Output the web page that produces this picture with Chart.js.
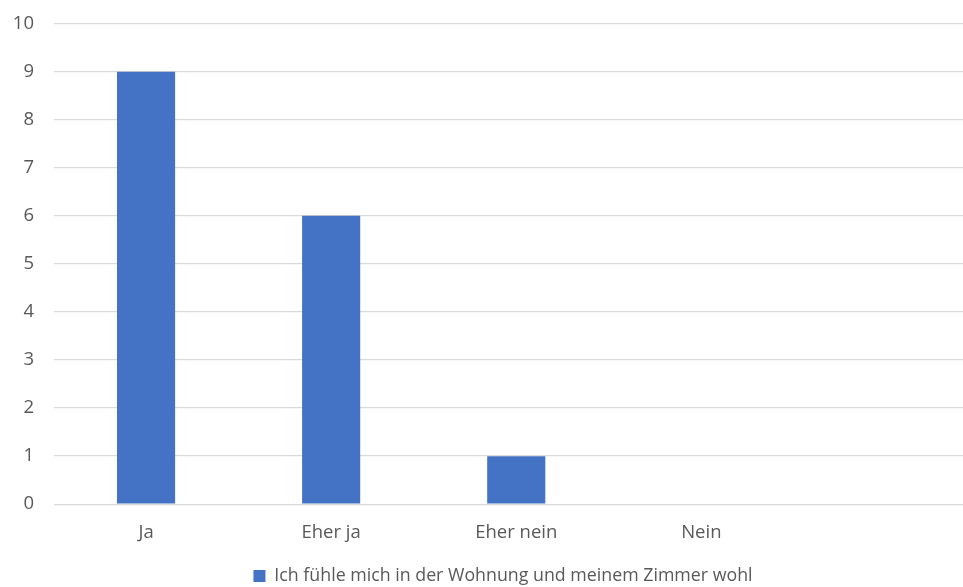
<!DOCTYPE html>
<html>
<head>
<meta charset="utf-8">
<script src="https://cdn.jsdelivr.net/npm/chart.js@4.4.1/dist/chart.umd.min.js"></script>
<style>
  html, body { margin: 0; padding: 0; background: #fff; overflow: hidden; }
  #wrap { width: 963px; height: 587px; overflow: hidden; position: relative; }
  #chart { position: absolute; left: 0; top: -7px; }
</style>
</head>
<body>
<div id="wrap"><canvas id="chart" width="979" height="594"></canvas></div>
<script>
const categories = ['Ja', 'Eher ja', 'Eher nein', 'Nein', ''];
const values = [9, 6, 1, 0, null];
const seriesLabel = 'Ich fühle mich in der Wohnung und meinem Zimmer wohl';

const textColor = '#595959';
const fontFamily = "'Open Sans', 'Liberation Sans', sans-serif";
const fontSize = 18.5;

// nudge the legend so it sits where the original put it
const moveLegend = {
  id: 'moveLegend',
  afterLayout(chart) {
    const lg = chart.legend;
    lg.left += 13.5; lg.right += 13.5;
    lg.top += 8; lg.bottom += 8;
  }
};

new Chart(document.getElementById('chart'), {
  type: 'bar',
  data: {
    labels: categories,
    datasets: [{
      label: seriesLabel,
      data: values,
      backgroundColor: '#4472C4',
      borderWidth: 0,
      categoryPercentage: 1,
      barPercentage: 0.314
    }]
  },
  options: {
    responsive: false,
    animation: false,
    layout: { padding: 0 },
    plugins: {
      legend: {
        position: 'bottom',
        labels: {
          color: textColor,
          font: { family: fontFamily, size: 17.8 },
          boxWidth: 12,
          boxHeight: 12,
          padding: 3
        }
      },
      tooltip: { enabled: false }
    },
    scales: {
      x: {
        grid: { display: false },
        border: { display: false },
        ticks: { color: textColor, font: { family: fontFamily, size: fontSize }, padding: 9 },
        afterFit: (axis) => { axis.height = 52; }
      },
      y: {
        min: 0,
        max: 10,
        ticks: { stepSize: 1, color: textColor, font: { family: fontFamily, size: fontSize }, padding: 19.5 },
        grid: { color: '#D9D9D9', lineWidth: 1.3, drawTicks: false },
        border: { display: false },
        afterFit: (axis) => { axis.width = 53.5; }
      }
    }
  },
  plugins: [moveLegend]
});
</script>
</body>
</html>
